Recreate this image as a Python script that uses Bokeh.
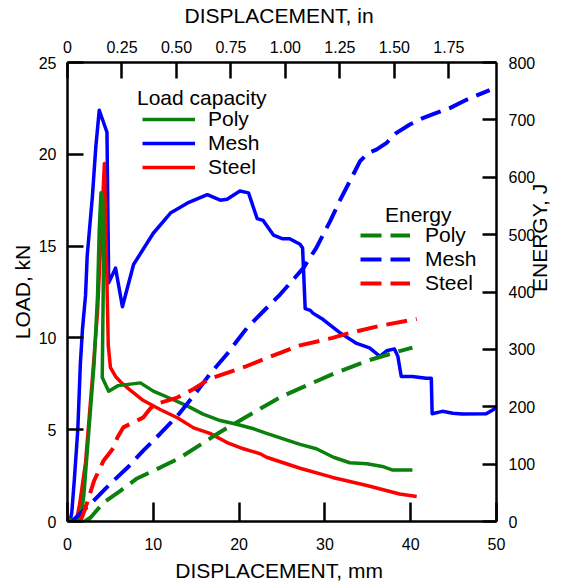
import math
from bokeh.plotting import figure
from bokeh.models import (Range1d, LinearAxis, FixedTicker, Legend, LegendItem,
                          Label, NumeralTickFormatter)
from bokeh.embed import file_html
from bokeh.resources import INLINE

# ---------------- data ----------------
# Load capacity curves: displacement (mm) vs load (kN)
mesh_x = [0.3, 0.5, 0.8, 1.2, 1.5, 1.75, 2.1, 2.3, 2.9, 3.3, 3.7, 4.6, 4.8, 5.6, 6.4,
          7.7, 10.0, 12.0, 14.0, 16.3, 17.8, 18.6, 20.1, 21.1, 22.1, 22.8, 24.0, 25.1,
          25.9, 27.1, 27.4, 27.7, 28.3, 28.6, 29.8, 31.7, 33.7, 35.2, 36.4, 37.2, 38.1,
          38.5, 38.9, 40.2, 41.8, 42.4, 42.5, 43.7, 44.9, 46.0, 48.8, 50.0]
mesh_load = [0.0, 0.5, 2.3, 5.0, 8.6, 10.5, 12.3, 14.5, 17.7, 20.4, 22.4, 21.2, 13.0, 13.8,
             11.7, 14.0, 15.7, 16.8, 17.35, 17.8, 17.5, 17.55, 18.0, 17.9, 16.5, 16.4, 15.6,
             15.4, 15.4, 15.1, 14.9, 11.6, 11.5, 11.35, 11.0, 10.3, 9.7, 9.46, 9.0, 9.3, 9.4,
             9.0, 7.9, 7.9, 7.8, 7.8, 5.87, 6.0, 5.9, 5.85, 5.87, 6.2]

steel_x = [1.0, 1.4, 2.1, 2.9, 3.5, 3.85, 4.3, 4.6, 4.75, 5.0, 5.6, 6.2, 7.2, 8.8, 10.8,
           12.8, 14.7, 16.6, 18.6, 20.5, 22.4, 23.2, 27.1, 30.9, 34.9, 38.7, 40.7]
steel_load = [0.0, 0.9, 3.2, 7.8, 11.4, 15.0, 19.5, 13.0, 9.6, 8.4, 7.9, 7.6, 7.2, 6.6, 6.1,
              5.65, 5.1, 4.8, 4.3, 3.96, 3.7, 3.5, 2.9, 2.4, 1.96, 1.5, 1.36]

poly_x = [0.0, 1.5, 1.9, 2.5, 3.1, 3.5, 3.7, 3.9, 4.1, 4.2, 4.05, 4.8, 5.9, 8.5, 10.0,
          12.0, 13.95, 15.8, 17.8, 19.7, 21.7, 23.2, 27.1, 29.0, 31.0, 32.9, 34.9, 36.7,
          37.9, 40.2]
poly_load = [0.1, 0.1, 1.4, 5.0, 8.6, 12.3, 15.9, 17.9, 17.6, 14.1, 7.84, 7.1, 7.4, 7.55,
             7.1, 6.7, 6.3, 5.85, 5.5, 5.3, 5.05, 4.8, 4.2, 3.96, 3.5, 3.2, 3.15, 3.0, 2.8, 2.8]

# Energy curves: displacement (mm) vs energy (J)
mesh_ex = [0.5, 2.7, 5.0, 7.0, 8.8, 10.8, 12.8, 14.7, 16.6, 18.6, 20.9, 22.8, 24.8, 27.5,
           29.0, 30.6, 31.7, 32.9, 34.1, 35.0, 36.0, 37.2, 38.3, 39.9, 41.4, 43.0, 44.5,
           46.5, 49.2]
mesh_energy = [0, 31, 66, 94, 123, 153, 184, 219, 257, 292, 337, 366, 396, 442, 477, 523,
               558, 593, 628, 642, 648, 660, 677, 692, 703, 712, 720, 735, 752]

steel_ex = [1.5, 2.1, 3.1, 4.2, 5.4, 5.8, 6.5, 8.8, 9.7, 10.8, 12.8, 14.7, 16.6, 18.6,
            20.9, 22.4, 24.8, 27.1, 30.9, 32.5, 36.4, 40.7]
steel_energy = [0, 24, 71, 106, 129, 146, 164, 181, 198, 207, 216, 231, 249, 259, 271, 280,
                294, 307, 320, 327, 341, 353]

poly_ex = [2.0, 2.7, 4.2, 6.2, 8.1, 10.8, 13.1, 15.5, 17.8, 20.1, 22.5, 25.0, 27.1, 30.9,
           34.9, 38.7, 40.2]
poly_energy = [0, 7, 33, 54, 75, 94, 111, 134, 156, 176, 197, 218, 232, 257, 280, 297, 303]

# axes / ticks
mm_ticks = [0, 10, 20, 30, 40, 50]
load_ticks = [0, 5, 10, 15, 20, 25]
in_ticks = [0, 0.25, 0.5, 0.75, 1.0, 1.25, 1.5, 1.75]
in_labels = ["0", "0.25", "0.50", "0.75", "1.00", "1.25", "1.50", "1.75"]
energy_ticks = [0, 100, 200, 300, 400, 500, 600, 700, 800]

GREEN = "#0c800c"
BLUE = "#0000ff"
RED = "#ff0000"
FONT = "Liberation Sans"
BIG = "21px"

p = figure(width=565, height=586, output_backend="svg", toolbar_location=None,
           x_range=Range1d(0, 50), y_range=Range1d(0, 25),
           min_border_left=67, min_border_right=69, min_border_top=61,
           min_border_bottom=65)
p.extra_x_ranges = {"inch": Range1d(0, 50 / 25.4)}
p.extra_y_ranges = {"energy": Range1d(0, 800)}
p.grid.visible = False
p.outline_line_color = None
p.background_fill_color = "white"
p.border_fill_color = "white"

bottom = p.below[0]
left = p.left[0]

top = LinearAxis(x_range_name="inch", ticker=FixedTicker(ticks=in_ticks),
                 formatter=NumeralTickFormatter(format="0.00"),
                 major_label_overrides={t: l for t, l in zip(in_ticks, in_labels)},
                 axis_label="DISPLACEMENT,  in")
p.add_layout(top, "above")
right = LinearAxis(y_range_name="energy", ticker=FixedTicker(ticks=energy_ticks),
                   axis_label="ENERGY, J")
p.add_layout(right, "right")
try:
    right.axis_label_orientation = math.pi / 2
except Exception:
    pass

bottom.ticker = FixedTicker(ticks=mm_ticks)
bottom.axis_label = "DISPLACEMENT,  mm"
left.ticker = FixedTicker(ticks=load_ticks)
left.axis_label = "LOAD, kN"

for ax in [bottom, left, top, right]:
    ax.axis_line_width = 2.5
    ax.axis_line_color = "black"
    ax.major_tick_line_width = 2.5
    ax.major_tick_line_color = "black"
    ax.major_tick_out = 0
    ax.major_tick_in = 16
    ax.minor_tick_line_color = None
    ax.major_label_text_font = FONT
    ax.major_label_text_font_size = "16px"
    ax.major_label_text_color = "black"
    ax.axis_label_text_font = FONT
    ax.axis_label_text_font_size = BIG
    ax.axis_label_text_font_style = "normal"
    ax.axis_label_text_color = "black"

bottom.major_tick_in = 19
bottom.major_label_standoff = 16
bottom.axis_label_standoff = 6
left.major_label_standoff = 11
left.axis_label_standoff = 2
top.major_label_standoff = 10
top.axis_label_standoff = 11
right.major_label_standoff = 12
right.axis_label_standoff = 1
right.major_tick_in = 14

LW = 3.5
DASH = "21 9"
r_mesh = p.line(mesh_x, mesh_load, color=BLUE, line_width=LW, line_join="round")
r_steel = p.line(steel_x, steel_load, color=RED, line_width=LW, line_join="round")
r_poly = p.line(poly_x, poly_load, color=GREEN, line_width=LW, line_join="round")

e_mesh = p.line(mesh_ex, mesh_energy, y_range_name="energy", color=BLUE, line_width=4,
                line_dash=DASH)
e_steel = p.line(steel_ex, steel_energy, y_range_name="energy", color=RED, line_width=4,
                 line_dash=DASH)
e_poly = p.line(poly_ex, poly_energy, y_range_name="energy", color=GREEN, line_width=4,
                line_dash=DASH)

common = dict(border_line_color=None, background_fill_alpha=0, padding=0, spacing=0,
              glyph_height=24, label_height=24, margin=0,
              label_text_font=FONT, label_text_font_size=BIG, label_text_color="black")
leg1 = Legend(items=[LegendItem(label="Poly", renderers=[r_poly]),
                     LegendItem(label="Mesh", renderers=[r_mesh]),
                     LegendItem(label="Steel", renderers=[r_steel])],
              location=(75, 342), glyph_width=53, label_standoff=13, **common)
leg2 = Legend(items=[LegendItem(label="Poly", renderers=[e_poly]),
                     LegendItem(label="Mesh", renderers=[e_mesh]),
                     LegendItem(label="Steel", renderers=[e_steel])],
              location=(293, 226), glyph_width=50, label_standoff=15, **common)
p.add_layout(leg1)
p.add_layout(leg2)

p.add_layout(Label(x=8.1, y=23.1, text="Load capacity", text_font=FONT,
                   text_font_size=BIG, text_baseline="middle", text_align="left",
                   text_color="black"))
p.add_layout(Label(x=37.0, y=16.74, text="Energy", text_font=FONT,
                   text_font_size=BIG, text_baseline="middle", text_align="left",
                   text_color="black"))

open("out.html", "w").write(file_html(p, INLINE))
